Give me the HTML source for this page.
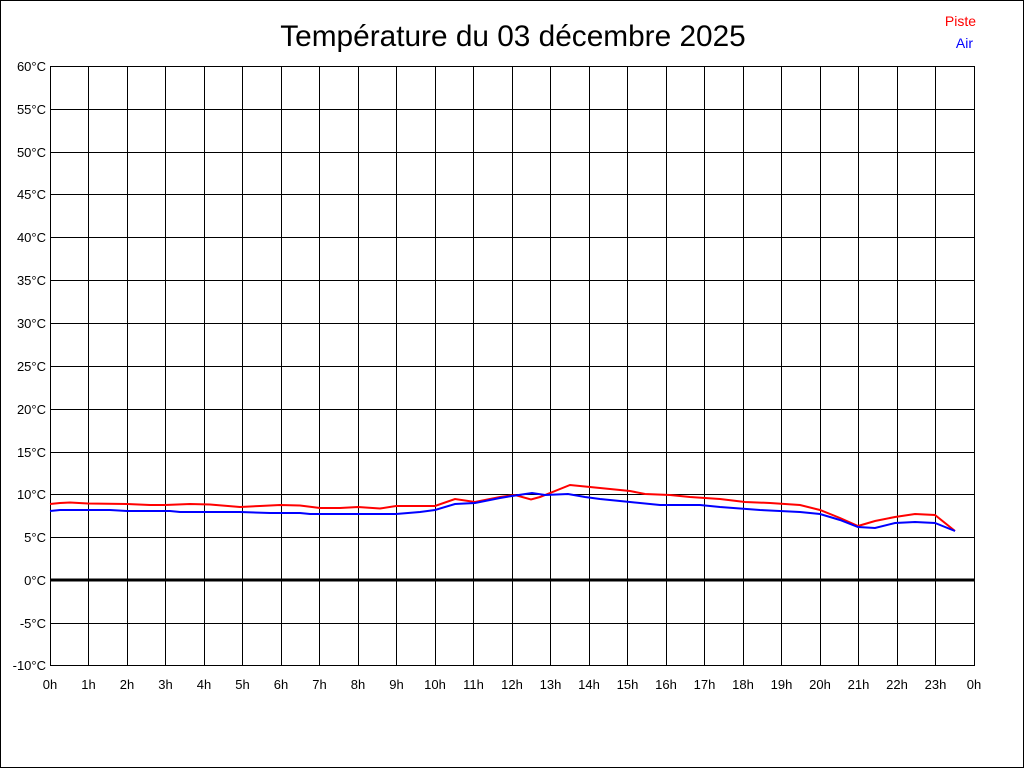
<!DOCTYPE html>
<html><head><meta charset="utf-8"><style>body{margin:0;background:#fff}svg{display:block}</style></head><body>
<svg width="1024" height="768" xmlns="http://www.w3.org/2000/svg" font-family="Liberation Sans, Arial, sans-serif">
<rect x="0.5" y="0.5" width="1023" height="767" fill="#fff" stroke="#000"/>
<text x="513" y="46" font-size="29.8" text-anchor="middle">Température du 03 décembre 2025</text>
<text x="976" y="26" font-size="14" fill="#f00" text-anchor="end">Piste</text>
<text x="973" y="48" font-size="14" fill="#00f" text-anchor="end">Air</text>
<g stroke="#000" stroke-width="1" shape-rendering="crispEdges" fill="none">
<path d="M50 66.5H974M50 109.5H974M50 152.5H974M50 194.5H974M50 237.5H974M50 280.5H974M50 323.5H974M50 366.5H974M50 409.5H974M50 452.5H974M50 494.5H974M50 537.5H974M50 623.5H974M50 665.5H974
M50.5 66V666M88.5 66V666M127.5 66V666M165.5 66V666M204.5 66V666M242.5 66V666M281.5 66V666M319.5 66V666M358.5 66V666M396.5 66V666M435.5 66V666M473.5 66V666M512.5 66V666M550.5 66V666M589.5 66V666M627.5 66V666M666.5 66V666M704.5 66V666M743.5 66V666M781.5 66V666M820.5 66V666M858.5 66V666M897.5 66V666M935.5 66V666M974.5 66V666"/>
</g>
<g font-size="13" text-anchor="end">
<text x="46" y="71">60°C</text><text x="46" y="114">55°C</text><text x="46" y="157">50°C</text><text x="46" y="199">45°C</text><text x="46" y="242">40°C</text><text x="46" y="285">35°C</text><text x="46" y="328">30°C</text><text x="46" y="371">25°C</text><text x="46" y="414">20°C</text><text x="46" y="457">15°C</text><text x="46" y="499">10°C</text><text x="46" y="542">5°C</text><text x="46" y="585">0°C</text><text x="46" y="628">-5°C</text><text x="46" y="670">-10°C</text>
</g>
<g font-size="13" text-anchor="middle">
<text x="50" y="689">0h</text><text x="88.5" y="689">1h</text><text x="127" y="689">2h</text><text x="165.5" y="689">3h</text><text x="204" y="689">4h</text><text x="242.5" y="689">5h</text><text x="281" y="689">6h</text><text x="319.5" y="689">7h</text><text x="358" y="689">8h</text><text x="396.5" y="689">9h</text><text x="435" y="689">10h</text><text x="473.5" y="689">11h</text><text x="512" y="689">12h</text><text x="550.5" y="689">13h</text><text x="589" y="689">14h</text><text x="627.5" y="689">15h</text><text x="666" y="689">16h</text><text x="704.5" y="689">17h</text><text x="743" y="689">18h</text><text x="781.5" y="689">19h</text><text x="820" y="689">20h</text><text x="858.5" y="689">21h</text><text x="897" y="689">22h</text><text x="935.5" y="689">23h</text><text x="974" y="689">0h</text>
</g>
<line x1="50" y1="580" x2="974" y2="580" stroke="#000" stroke-width="3"/>
<polyline fill="none" stroke="#f00" stroke-width="2" points="50,504 60,503 70,502.5 88,503.5 127,504 150,505 165,505 190,504 210,504.5 240,507 260,506 280,505 300,505.5 320,508 340,508 358,507 380,508.5 396,506 420,506 435,506 455,499 475,502 500,497 515,495 531,499.5 540,497 570,485 590,487 610,489 630,491 645,494 670,495 690,497 720,499 745,502 770,503 800,505 820,510 840,518 858,526 875,521 895,517 915,514 935,515 955,531"/>
<polyline fill="none" stroke="#00f" stroke-width="2" points="50,511 60,510 88,510 110,510 127,511 170,511 180,512 240,512 270,513 300,513 310,514 350,514 396,514 420,512 435,510 455,504 475,503 500,498 512,496 532,493 545,495 568,494 585,497 600,499 630,502 660,505 700,505 720,507 760,510 800,512 820,514 840,520 858,527 875,528 895,523 915,522 935,523 955,531"/>
</svg>
</body></html>
